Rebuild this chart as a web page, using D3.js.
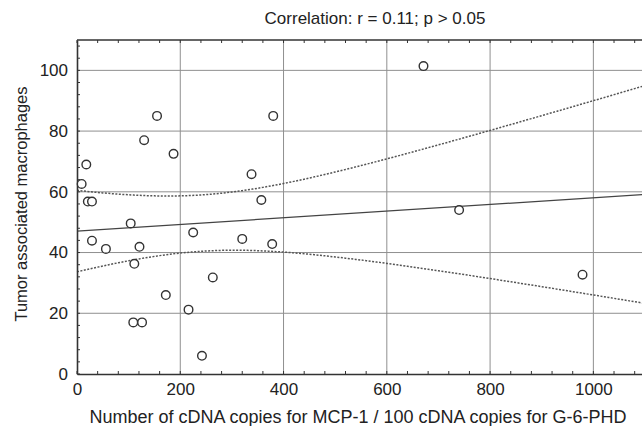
<!DOCTYPE html>
<html>
<head>
<meta charset="utf-8">
<script src="https://cdn.jsdelivr.net/npm/d3@7"></script>
<style>
body { margin: 0; background: #fff; }
text { font-family: "Liberation Sans", Arial, sans-serif; fill: #222; }
</style>
</head>
<body>
<script>
// Daten
var mcp1 = [155, 130, 187, 380, 18, 9, 21, 29, 338, 357, 104, 225, 29, 56, 121, 111, 320, 378, 263, 172, 216, 109, 126, 242, 671, 740, 979];
var macrophages = [85, 77, 72.5, 85, 69, 62.6, 56.8, 56.8, 65.8, 57.3, 49.6, 46.6, 43.9, 41.2, 41.9, 36.3, 44.5, 42.8, 31.8, 26, 21.2, 17, 17, 6, 101.4, 54, 32.7];
var xTicks = [0, 200, 400, 600, 800, 1000];
var yTicks = [0, 20, 40, 60, 80, 100];
var title = "Correlation: r = 0.11; p > 0.05";

var width = 642, height = 426;
var margin = {top: 40, right: -3, bottom: 52, left: 77};

var svg = d3.select("body").append("svg")
  .attr("width", width)
  .attr("height", height);

var x = d3.scaleLinear().domain([0, 1100]).range([margin.left, width - margin.right]);
var y = d3.scaleLinear().domain([0, 110]).range([height - margin.bottom, margin.top]);

// Gitter
svg.append("g").selectAll("line").data(xTicks.slice(1)).enter().append("line")
  .attr("x1", d => x(d)).attr("x2", d => x(d))
  .attr("y1", y(0)).attr("y2", y(110))
  .attr("stroke", "#8f8f8f").attr("stroke-width", 1);
svg.append("g").selectAll("line").data(yTicks.slice(1)).enter().append("line")
  .attr("x1", x(0)).attr("x2", x(1100))
  .attr("y1", d => y(d)).attr("y2", d => y(d))
  .attr("stroke", "#8f8f8f").attr("stroke-width", 1);

// Regression + 95% Konfidenzband
var n = mcp1.length;
var mx = d3.mean(mcp1), my = d3.mean(macrophages);
var sxx = d3.sum(mcp1, d => (d - mx) * (d - mx));
var sxy = d3.sum(mcp1, (d, i) => (d - mx) * (macrophages[i] - my));
var b = sxy / sxx, a = my - b * mx;
var s = Math.sqrt(d3.sum(mcp1, (d, i) => Math.pow(macrophages[i] - (a + b * d), 2)) / (n - 2));
var t = 2.06;
var xs = d3.range(0, 1101, 10);
var band = function (sign) {
  return xs.map(v => [v, a + b * v + sign * t * s * Math.sqrt(1 / n + (v - mx) * (v - mx) / sxx)]);
};
var line = d3.line().x(d => x(d[0])).y(d => y(d[1]));

svg.append("path").datum([[0, a], [1100, a + b * 1100]])
  .attr("d", line).attr("fill", "none").attr("stroke", "#444").attr("stroke-width", 1.3);
[1, -1].forEach(function (sg) {
  svg.append("path").datum(band(sg))
    .attr("d", line).attr("fill", "none").attr("stroke", "#555")
    .attr("stroke-width", 1.5).attr("stroke-dasharray", "2,1.5");
});

// Rahmen + Achsen
var xAxis = d3.axisBottom(x).tickValues(xTicks).tickFormat(d3.format("d")).tickSize(0).tickPadding(9);
var gx = svg.append("g").attr("transform", "translate(0," + y(0) + ")").call(xAxis);
gx.select(".domain").attr("stroke", "#333").attr("stroke-width", 1.6);
gx.selectAll("text").attr("font-size", 17).attr("fill", "#222");

var yAxis = d3.axisLeft(y).tickValues(yTicks).tickSize(0).tickPadding(9);
var gy = svg.append("g").attr("transform", "translate(" + x(0) + ",0)").call(yAxis);
gy.select(".domain").attr("stroke", "#333").attr("stroke-width", 1.6);
gy.selectAll("text").attr("font-size", 17).attr("fill", "#222");

svg.append("line").attr("x1", x(0)).attr("x2", x(1100)).attr("y1", y(110)).attr("y2", y(110))
  .attr("stroke", "#333").attr("stroke-width", 1.6);

// kleine Striche nach innen
var minorX = d3.range(0, 1101, 40);
svg.append("g").selectAll("line").data(minorX).enter().append("line")
  .attr("x1", d => x(d)).attr("x2", d => x(d)).attr("y1", y(0)).attr("y2", y(0) - 3)
  .attr("stroke", "#333");
svg.append("g").selectAll("line").data(minorX).enter().append("line")
  .attr("x1", d => x(d)).attr("x2", d => x(d)).attr("y1", y(110)).attr("y2", y(110) + 3)
  .attr("stroke", "#333");
svg.append("g").selectAll("line").data(d3.range(0, 111, 4)).enter().append("line")
  .attr("x1", x(0)).attr("x2", x(0) + 3).attr("y1", d => y(d)).attr("y2", d => y(d))
  .attr("stroke", "#333");

// Punkte
svg.append("g").selectAll("circle").data(mcp1).enter().append("circle")
  .attr("cx", d => x(d))
  .attr("cy", (d, i) => y(macrophages[i]))
  .attr("r", 4.3)
  .attr("fill", "#fff").attr("stroke", "#333").attr("stroke-width", 1.4);

// Texte
svg.append("text").attr("x", 375).attr("y", 24).attr("text-anchor", "middle")
  .attr("font-size", 17).text(title);
svg.append("text").attr("x", 358).attr("y", 423).attr("text-anchor", "middle")
  .attr("font-size", 18).text("Number of cDNA copies for MCP-1 / 100 cDNA copies for G-6-PHD");
svg.append("text").attr("transform", "translate(27," + 204 + ") rotate(-90)")
  .attr("text-anchor", "middle").attr("font-size", 16.5).text("Tumor associated macrophages");
</script>
</body>
</html>
